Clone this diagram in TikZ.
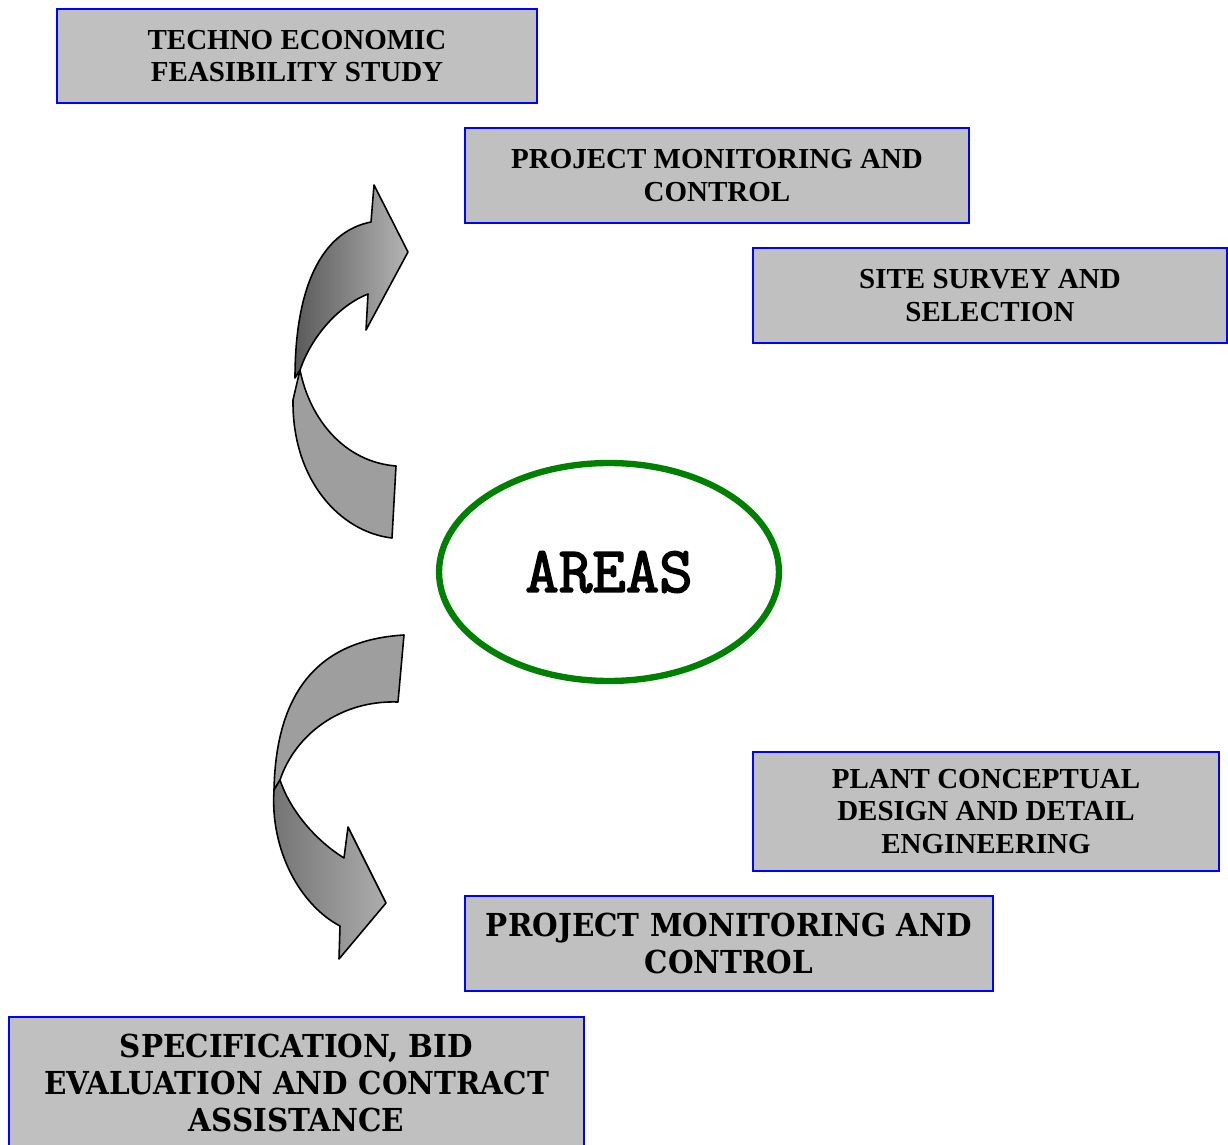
\documentclass[tikz,border=0pt]{standalone}
\usepackage{fontspec}
\usetikzlibrary{shapes.geometric}
\newfontfamily\timesfont{Liberation Serif}
\newfontfamily\bookfont[FakeStretch=0.93]{DejaVu Serif}
\newfontfamily\areasfont[FakeBold=2.5]{Latin Modern Mono}
\definecolor{boxgray}{RGB}{192,192,192}
\definecolor{areagreen}{RGB}{0,128,0}
\definecolor{ribbongray}{RGB}{158,158,158}
\definecolor{shadedark}{RGB}{90,90,90}
\definecolor{shadelight}{RGB}{180,180,180}

\begin{document}
\begin{tikzpicture}[x=0.02cm, y=-0.02cm,
    areabox/.style={draw=blue, line width=1.1pt, fill=boxgray, align=center, inner sep=0pt},
    smalltext/.style={font=\timesfont\bfseries\fontsize{16.5}{18.6}\selectfont},
    bigtext/.style={font=\bookfont\bfseries\fontsize{18}{21}\selectfont},
    ribbon/.style={draw=black, line width=0.9pt, line join=round}]

    % page size (pixel units)
    \useasboundingbox (0,0) rectangle (1228,1145);

    % boxes
    \node[areabox, smalltext, minimum width=9.6cm, minimum height=1.88cm] (techno) at (297,56)
        {TECHNO ECONOMIC\\FEASIBILITY STUDY};
    \node[areabox, smalltext, minimum width=10.08cm, minimum height=1.9cm] (pmctop) at (717,175.5)
        {PROJECT MONITORING AND\\CONTROL};
    \node[areabox, smalltext, minimum width=9.48cm, minimum height=1.9cm] (site) at (990,295.5)
        {SITE SURVEY AND\\SELECTION};
    \node[areabox, smalltext, minimum width=9.32cm, minimum height=2.38cm] (plant) at (986,811.5)
        {PLANT CONCEPTUAL\\DESIGN AND DETAIL\\ENGINEERING};
    \node[areabox, bigtext, minimum width=10.56cm, minimum height=1.9cm] (pmcbot) at (729,943.5)
        {PROJECT MONITORING AND\\CONTROL};
    \node[areabox, bigtext, minimum width=11.5cm, minimum height=2.64cm] (spec) at (296.5,1083)
        {SPECIFICATION, BID\\EVALUATION AND CONTRACT\\ASSISTANCE};

    % centre
    \node[ellipse, draw=areagreen, line width=3.6pt, minimum width=6.8cm, minimum height=4.36cm,
        font=\areasfont\fontsize{37}{39}\selectfont] (areas) at (609,572) {AREAS};

    % upper arrow
    \coordinate (Ucusp) at (300,370);
    \coordinate (Utailtop) at (396,466);
    \coordinate (Utailbot) at (392,538);
    \coordinate (Uleft) at (293,400);
    \coordinate (Ustart) at (295,378);
    \coordinate (Uneck) at (371,222);
    \coordinate (Ubarbtop) at (374,185);
    \coordinate (Utip) at (408,252);
    \coordinate (Ubarbbot) at (366,330);
    \coordinate (Unotch) at (368,294);

    \draw[ribbon, fill=ribbongray] (Ucusp) .. controls (310,420) and (345,462) .. (Utailtop)
        -- (Utailbot) .. controls (340,532) and (292,480) .. (Uleft) -- cycle;
    \draw[ribbon, left color=shadedark, right color=shadelight] (Ustart)
        .. controls (295,290) and (320,232) .. (Uneck) -- (Ubarbtop) -- (Utip) -- (Ubarbbot)
        -- (Unotch) .. controls (340,305) and (312,335) .. (Ucusp) -- cycle;

    % lower arrow
    \coordinate (Ltailtop) at (404,635);
    \coordinate (Ltailbot) at (398,702);
    \coordinate (Lcusp) at (280,780);
    \coordinate (Lleft) at (274,790);
    \coordinate (Lneck) at (340,926);
    \coordinate (Lbarbbot) at (339,959);
    \coordinate (Ltip) at (386,903);
    \coordinate (Lbarbtop) at (348,827);
    \coordinate (Lnotch) at (344,858);

    \draw[ribbon, fill=ribbongray] (Ltailtop) -- (Ltailbot)
        .. controls (340,700) and (295,735) .. (Lcusp) -- (Lleft)
        .. controls (276,690) and (320,640) .. (Ltailtop) -- cycle;
    \draw[ribbon, left color=shadedark!85!white, right color=shadelight!110!white] (Lleft)
        .. controls (270,850) and (300,905) .. (Lneck) -- (Lbarbbot) -- (Ltip) -- (Lbarbtop)
        -- (Lnotch) .. controls (315,840) and (290,810) .. (Lcusp) -- cycle;

\end{tikzpicture}
\end{document}
